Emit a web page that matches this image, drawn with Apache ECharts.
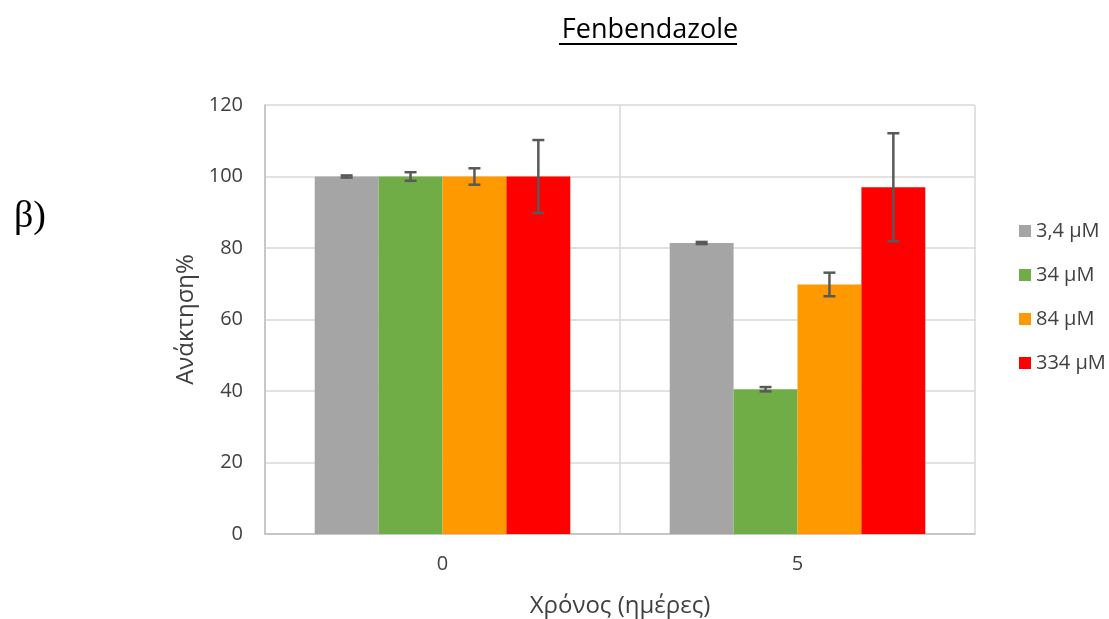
<!DOCTYPE html>
<html>
<head>
<meta charset="utf-8">
<script src="https://cdn.jsdelivr.net/npm/echarts@6/dist/echarts.min.js"></script>
<style>
  html, body { margin: 0; padding: 0; background: #fff; }
  #chart { width: 1109px; height: 619px; }
</style>
</head>
<body>
<div id="chart"></div>
<script>
// days
const categories = ['0', '5'];
const seriesNames = ['3,4 µM', '34 µM', '84 µM', '334 µM'];
const recovery = [
  [100, 81.4],   // 3,4 µM
  [100, 40.5],   // 34 µM
  [100, 69.8],   // 84 µM
  [100, 97.0]    // 334 µM
];
// error (+/-)
const errors = [
  [0.3, 0.3],
  [1.2, 0.6],
  [2.3, 3.3],
  [10.2, 15.1]
];
const colors = ['#a5a5a5', '#70ad47', '#ff9900', '#ff0000'];

const font = '"Open Sans", sans-serif';
const chart = echarts.init(document.getElementById('chart'));

const errData = [];
recovery.forEach((vals, s) => {
  vals.forEach((v, c) => {
    errData.push([c, v - errors[s][c], v + errors[s][c], s]);
  });
});

const barSeries = seriesNames.map((name, i) => ({
  name: name,
  type: 'bar',
  data: recovery[i],
  barGap: '0%',
  barCategoryGap: '28%',
  itemStyle: { color: colors[i] }
}));

const errorSeries = {
  type: 'custom',
  name: 'error',
  z: 10,
  data: errData,
  renderItem: function (params, api) {
    const c = api.value(0);
    const s = api.value(3);
    const lo = api.coord([c, api.value(1)]);
    const hi = api.coord([c, api.value(2)]);
    const band = api.size([1, 0])[0];
    const bw = band * 0.72 / 4;
    const x = lo[0] + (s - 1.5) * bw;
    const cap = 6;
    const style = { stroke: '#595959', lineWidth: 2.5 };
    return {
      type: 'group',
      children: [
        { type: 'line', shape: { x1: x, y1: lo[1], x2: x, y2: hi[1] }, style: style },
        { type: 'line', shape: { x1: x - cap, y1: lo[1], x2: x + cap, y2: lo[1] }, style: style },
        { type: 'line', shape: { x1: x - cap, y1: hi[1], x2: x + cap, y2: hi[1] }, style: style }
      ]
    };
  }
};

const option = {
  animation: false,
  title: {
    text: 'Fenbendazole',
    left: 645,
    top: 12,
    textAlign: 'center',
    textStyle: { fontFamily: font, fontSize: 27, fontWeight: 'normal', color: '#000' }
  },
  graphic: [
    {
      type: 'line',
      shape: { x1: 559, y1: 44, x2: 737, y2: 44 },
      style: { stroke: '#000', lineWidth: 2 }
    },
    {
      type: 'text',
      left: 14,
      top: 198,
      style: { text: 'β)', font: '38px "Liberation Serif", serif', fill: '#000' }
    }
  ],
  legend: {
    data: seriesNames,
    orient: 'vertical',
    left: 1014,
    top: 216,
    itemWidth: 12,
    itemHeight: 12,
    itemGap: 24,
    icon: 'rect',
    textStyle: { fontFamily: font, fontSize: 20, color: '#404040' }
  },
  grid: { left: 265, right: 134, top: 105, bottom: 85, outerBoundsMode: 'none' },
  xAxis: {
    type: 'category',
    data: categories,
    name: 'Χρόνος (ημέρες)',
    nameLocation: 'middle',
    nameGap: 60,
    nameTextStyle: { fontFamily: font, fontSize: 24, color: '#404040' },
    axisLine: { lineStyle: { color: '#bfbfbf', width: 1.5 } },
    axisTick: { show: false },
    axisLabel: { fontFamily: font, fontSize: 20, color: '#404040', margin: 20 },
    splitLine: { show: true, lineStyle: { color: '#d9d9d9', width: 1.5 } }
  },
  yAxis: {
    type: 'value',
    min: 0,
    max: 120,
    interval: 20,
    name: 'Ανάκτηση%',
    nameLocation: 'middle',
    nameGap: 52,
    nameTextStyle: { fontFamily: font, fontSize: 24, color: '#404040' },
    axisLine: { show: true, lineStyle: { color: '#bfbfbf', width: 1.5 } },
    axisTick: { show: false },
    axisLabel: { fontFamily: font, fontSize: 20, color: '#404040', margin: 22 },
    splitLine: { lineStyle: { color: '#d9d9d9', width: 1.5 } }
  },
  series: barSeries.concat([errorSeries])
};

chart.setOption(option);
</script>
</body>
</html>
